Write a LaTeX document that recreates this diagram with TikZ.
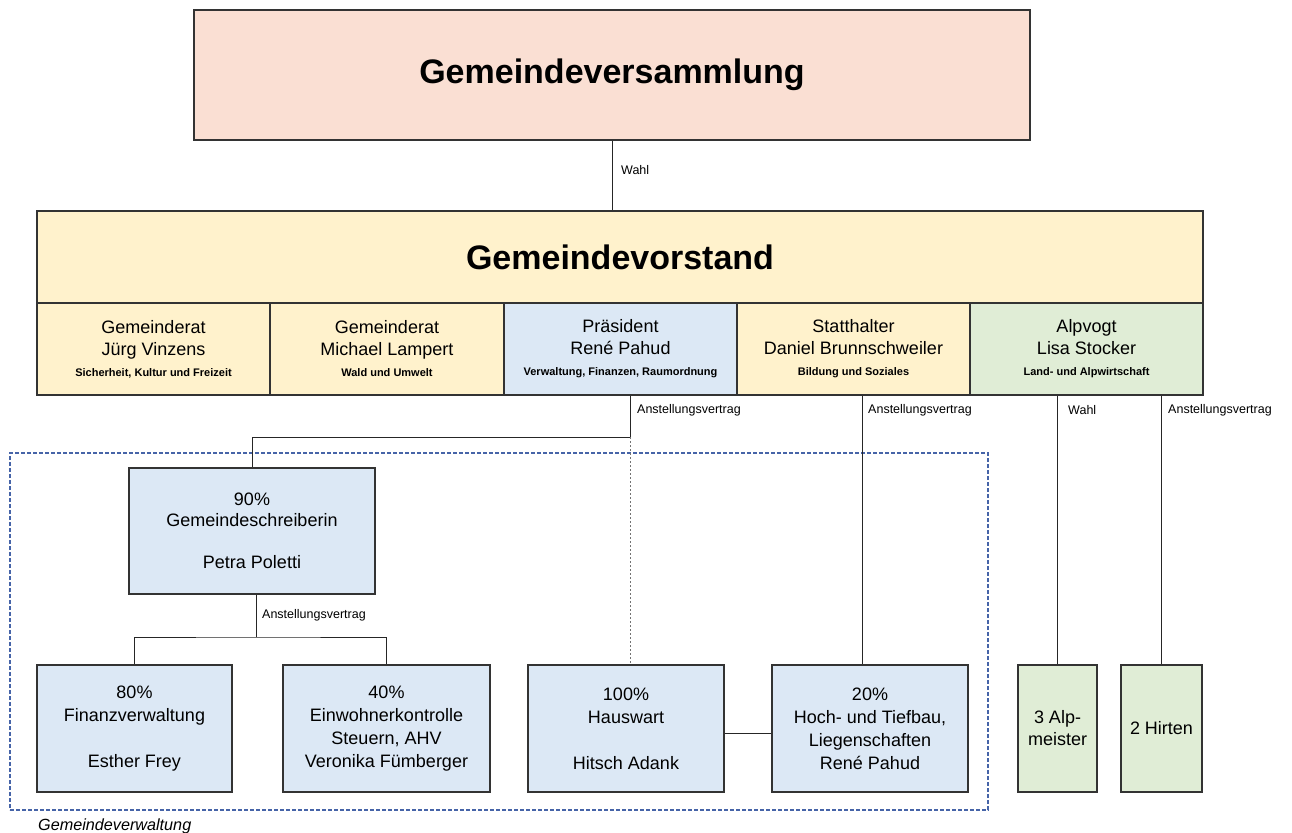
\documentclass[tikz,border=0pt]{standalone}
\usepackage{fontspec}
\setmainfont{Liberation Sans}
\usepackage{tikz}
\usetikzlibrary{positioning,calc}

\definecolor{pinkbg}{RGB}{250,223,211}
\definecolor{yellowbg}{RGB}{255,242,204}
\definecolor{bluebg}{RGB}{220,232,245}
\definecolor{greenbg}{RGB}{224,237,214}
\definecolor{framecol}{RGB}{70,100,168}

\newcommand{\dutytext}{\fontsize{11}{13}\selectfont\bfseries}

\begin{document}
\begin{tikzpicture}[x=1pt, y=-1pt,
    block/.style={rectangle, draw=black!80, line width=1.2pt, align=center, inner sep=0pt,
      font=\fontsize{18}{22}\selectfont},
    title/.style={block, font=\fontsize{34}{40}\selectfont\bfseries},
    member/.style={block, minimum width=233, minimum height=92},
    staff/.style={block, fill=bluebg, minimum height=127, font=\fontsize{18}{23}\selectfont},
    alp/.style={block, fill=greenbg, minimum height=127},
    con/.style={draw=black!85, line width=1pt},
    lbl/.style={anchor=west, inner sep=0pt, font=\fontsize{12.5}{15}\selectfont}]

    \useasboundingbox (0,0) rectangle (1292,832);

    % Gemeindeversammlung
    \node[title, fill=pinkbg, minimum width=836, minimum height=130] (versammlung) at (612,75) {Gemeindeversammlung};

    % Gemeindevorstand
    \node[title, fill=yellowbg, minimum width=1166, minimum height=92] (vorstand) at (620,257) {Gemeindevorstand};

    % Members of the Vorstand
    \node[member, fill=yellowbg] (rat1) at (153.5,349) {Gemeinderat\\Jürg Vinzens\\[-1pt]{\dutytext Sicherheit, Kultur und Freizeit}};
    \node[member, fill=yellowbg] (rat2) at (387,349) {Gemeinderat\\Michael Lampert\\[-1pt]{\dutytext Wald und Umwelt}};
    \node[member, fill=bluebg] (praes) at (620.5,349) {Präsident\\René Pahud\\[-1pt]{\dutytext Verwaltung, Finanzen, Raumordnung}};
    \node[member, fill=yellowbg] (statt) at (853.5,349) {Statthalter\\Daniel Brunnschweiler\\[-1pt]{\dutytext Bildung und Soziales}};
    \node[member, fill=greenbg] (alpvogt) at (1086.5,349) {Alpvogt\\Lisa Stocker\\[-1pt]{\dutytext Land- und Alpwirtschaft}};

    % Gemeindeverwaltung
    \node[rectangle, draw=framecol, line width=1.5pt, dash pattern=on 4pt off 2pt,
      minimum width=978, minimum height=357, inner sep=0pt] (verwaltung) at (499,631.5) {};
    \node[anchor=west, inner sep=0pt, font=\fontsize{16.2}{18}\selectfont\itshape] (verwlbl) at (38,826) {Gemeindeverwaltung};

    \node[staff, minimum width=246, minimum height=126, font=\fontsize{18}{21}\selectfont] (schreiber) at (252,531) {90\%\\Gemeindeschreiberin\\[21pt]Petra Poletti};

    \node[staff, minimum width=195] (finanz) at (134.5,728.5) {80\%\\Finanzverwaltung\\[23pt]Esther Frey};
    \node[staff, minimum width=207] (einw) at (386.5,728.5) {40\%\\Einwohnerkontrolle\\Steuern, AHV\\Veronika Fümberger};
    \node[staff, minimum width=196] (hauswart) at (626,728.5) {100\%\\Hauswart\\[23pt]Hitsch Adank};
    \node[staff, minimum width=196] (hochbau) at (870,728.5) {20\%\\Hoch- und Tiefbau,\\Liegenschaften\\René Pahud};

    % Alp
    \node[alp, minimum width=79] (alpm) at (1057.5,728.5) {3 Alp-\\meister};
    \node[alp, minimum width=81] (hirten) at (1161.5,728.5) {2 Hirten};

    % Connect components
    \coordinate (split) at (630,437);
    \coordinate (teamsplit) at (256,637);
    \coordinate (sttline) at (862,0);

    \draw[con] (versammlung.south) -- (versammlung.south |- vorstand.north);
    \node[lbl] (wahl1) at (621,170) {Wahl};

    \draw[con] (praes.south -| split) -- (split) -| (schreiber.north);
    \draw[con, draw=black!55, dash pattern=on 2pt off 2pt] (split) -- (split |- hauswart.north);
    \node[lbl] (vertrag1) at (637,410) {Anstellungsvertrag};

    \draw[con] (statt.south -| sttline) -- (hochbau.north -| sttline);
    \node[lbl] (vertrag2) at (868,410) {Anstellungsvertrag};

    \draw[con] (alpvogt.south -| alpm.north) -- (alpm.north);
    \node[lbl] (wahl2) at (1068,410) {Wahl};
    \draw[con] (alpvogt.south -| hirten.north) -- (hirten.north);
    \node[lbl] (vertrag3) at (1168,410) {Anstellungsvertrag};

    \draw[con] (schreiber.south -| teamsplit) -- (teamsplit);
    \draw[con] (finanz.north) |- (teamsplit) -| (einw.north);
    \node[lbl] (vertrag4) at (262,615) {Anstellungsvertrag};

    \draw[con] ([yshift=-4.5pt]hauswart.east) -- ([yshift=-4.5pt]hochbau.west);
\end{tikzpicture}
\end{document}
